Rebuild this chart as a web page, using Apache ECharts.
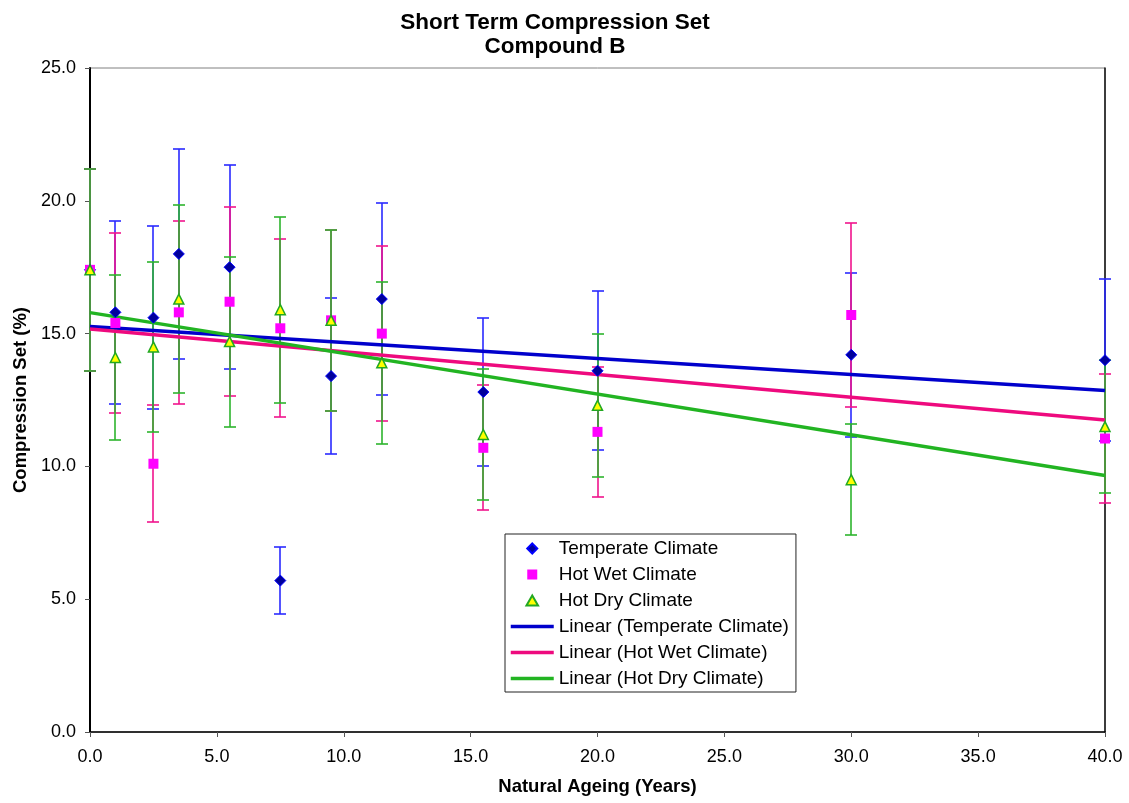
<!DOCTYPE html>
<html>
<head>
<meta charset="utf-8">
<script src="https://cdn.jsdelivr.net/npm/echarts@6/dist/echarts.min.js"></script>
<style>
html,body{margin:0;padding:0;background:#fff;}
#chart{width:1129px;height:803px;}
</style>
</head>
<body>
<div id="chart"></div>
<script>
// ---- data ----
const years = [0, 1, 2.5, 3.5, 5.5, 7.5, 9.5, 11.5, 15.5, 20, 30, 40];
const temperate    = [17.4, 15.8, 15.6, 18.0, 17.5, 5.7, 13.4, 16.3, 12.8, 13.6, 14.2, 14.0];
const temperateErr = [3.8, 3.45, 3.45, 3.95, 3.85, 1.25, 2.95, 3.6, 2.8, 3.0, 3.1, 3.05];
const hotWet       = [17.4, 15.4, 10.1, 15.8, 16.2, 15.2, 15.5, 15.0, 10.7, 11.3, 15.7, 11.05];
const hotWetErr    = [3.8, 3.4, 2.2, 3.45, 3.55, 3.35, 3.4, 3.3, 2.35, 2.45, 3.45, 2.42];
const hotDry       = [17.4, 14.1, 14.5, 16.3, 14.7, 15.9, 15.5, 13.9, 11.2, 12.3, 9.5, 11.5];
const hotDryErr    = [3.8, 3.1, 3.2, 3.55, 3.2, 3.5, 3.4, 3.05, 2.45, 2.7, 2.1, 2.5];
// linear trend end points (x = 0 and x = 40)
const trendX         = [0, 40];
const temperateTrend = [15.27, 12.86];
const hotWetTrend    = [15.17, 11.75];
const hotDryTrend    = [15.79, 9.66];

const FONT = '"Liberation Sans", Arial, Helvetica, sans-serif';

function errorSeries(name, vals, errs, color) {
  return {
    type: 'custom',
    name: name,
    silent: true,
    z: 2,
    clip: false,
    itemStyle: { color: color, borderColor: color },
    data: years.map((x, i) => [x, vals[i] - errs[i], vals[i] + errs[i]]),
    encode: { x: 0, y: [1, 2] },
    renderItem: function (params, api) {
      const lo = api.coord([api.value(0), api.value(1)]);
      const hi = api.coord([api.value(0), api.value(2)]);
      const x = Math.round(lo[0]);
      const y1 = Math.round(lo[1]);
      const y2 = Math.round(hi[1]);
      const hw = 6;
      const st = () => ({ stroke: color, fill: 'none', lineWidth: 1.6 });
      return {
        type: 'group',
        children: [
          { type: 'line', shape: { x1: x, y1: y1, x2: x, y2: y2 }, style: st() },
          { type: 'line', shape: { x1: x - hw, y1: y1, x2: x + hw, y2: y1 }, style: st() },
          { type: 'line', shape: { x1: x - hw, y1: y2, x2: x + hw, y2: y2 }, style: st() }
        ]
      };
    }
  };
}

function pairs(xs, ys) { return xs.map((x, i) => [x, ys[i]]); }

const chart = echarts.init(document.getElementById('chart'), null, { renderer: 'canvas' });

const hiddenSym = { opacity: 0 };
const option = {
  backgroundColor: '#ffffff',
  animation: false,
  textStyle: { fontFamily: FONT },
  grid: {
    left: 90, right: 24, top: 68, bottom: 71,
    show: true, borderColor: '#808080', borderWidth: 1,
    containLabel: false, outerBoundsMode: 'none'
  },
  graphic: [
    { type: 'text', x: 555, y: 23, style: { text: 'Short Term Compression Set', fill: '#000', font: 'bold 22.5px ' + FONT, align: 'center', verticalAlign: 'middle' } },
    { type: 'text', x: 555, y: 46.5, style: { text: 'Compound B', fill: '#000', font: 'bold 22.5px ' + FONT, align: 'center', verticalAlign: 'middle' } }
  ],
  legend: {
    orient: 'vertical',
    left: 505, top: 534,
    padding: [5, 7, 4, 4],
    itemGap: 7,
    itemWidth: 43,
    itemHeight: 10,
    itemTextGap: 4,
    symbolKeepAspect: true,
    borderColor: '#222',
    borderWidth: 1,
    borderRadius: 0,
    backgroundColor: '#ffffff',
    selectedMode: false,
    textStyle: { fontFamily: FONT, fontSize: 19, color: '#000' },
    data: [
      { name: 'Temperate Climate', icon: 'path://M0,-1L1,0L0,1L-1,0Z' },
      { name: 'Hot Wet Climate', icon: 'path://M0,0L1,0L1,1L0,1Z' },
      { name: 'Hot Dry Climate', icon: 'path://M0,-1L1.1,0.9L-1.1,0.9Z' },
      { name: 'Linear (Temperate Climate)', itemStyle: hiddenSym, lineStyle: { width: 3.5 } },
      { name: 'Linear (Hot Wet Climate)', itemStyle: hiddenSym, lineStyle: { width: 3.5 } },
      { name: 'Linear (Hot Dry Climate)', itemStyle: hiddenSym, lineStyle: { width: 3.5 } }
    ]
  },
  xAxis: {
    type: 'value', min: 0, max: 40, interval: 5,
    name: 'Natural Ageing (Years)', nameLocation: 'middle', nameGap: 45,
    nameTextStyle: { fontFamily: FONT, fontSize: 18.5, fontWeight: 'bold', color: '#000' },
    axisLine: { show: true, onZero: false, lineStyle: { color: '#000', width: 1.5 } },
    axisTick: { show: true, length: 5, inside: false, lineStyle: { color: '#555', width: 1 } },
    axisLabel: { show: true, margin: 16, fontFamily: FONT, fontSize: 18, color: '#000',
                 showMinLabel: true, showMaxLabel: true,
                 formatter: v => v.toFixed(1) },
    splitLine: { show: false }
  },
  yAxis: [{
    type: 'value', min: 0, max: 25, interval: 5,
    name: 'Compression Set (%)', nameLocation: 'middle', nameGap: 56, nameRotate: 90,
    nameTextStyle: { fontFamily: FONT, fontSize: 18.5, fontWeight: 'bold', color: '#000' },
    axisLine: { show: true, onZero: false, lineStyle: { color: '#000', width: 2 } },
    axisTick: { show: true, length: 5, inside: false, lineStyle: { color: '#555', width: 1 } },
    axisLabel: { show: true, margin: 14, fontFamily: FONT, fontSize: 18, color: '#000',
                 showMinLabel: true, showMaxLabel: true,
                 formatter: v => v.toFixed(1) },
    splitLine: { show: false }
  }, {
    type: 'value', min: 0, max: 25, interval: 5, position: 'right',
    axisLine: { show: true, onZero: false, lineStyle: { color: '#111', width: 1.5 } },
    axisTick: { show: false }, axisLabel: { show: false }, splitLine: { show: false }
  }],
  series: [
    errorSeries('err-temperate', temperate, temperateErr, '#2a2aff'),
    errorSeries('err-hotwet', hotWet, hotWetErr, '#f0148c'),
    errorSeries('err-hotdry', hotDry, hotDryErr, '#2db42d'),
    {
      type: 'line', name: 'Linear (Temperate Climate)', data: pairs(trendX, temperateTrend),
      symbol: 'none', showSymbol: false, z: 3, silent: true,
      lineStyle: { color: '#0000cc', width: 3.5 }, itemStyle: { color: '#0000cc' }
    },
    {
      type: 'line', name: 'Linear (Hot Wet Climate)', data: pairs(trendX, hotWetTrend),
      symbol: 'none', showSymbol: false, z: 3, silent: true,
      lineStyle: { color: '#ee0a7e', width: 3.5 }, itemStyle: { color: '#ee0a7e' }
    },
    {
      type: 'line', name: 'Linear (Hot Dry Climate)', data: pairs(trendX, hotDryTrend),
      symbol: 'none', showSymbol: false, z: 3, silent: true,
      lineStyle: { color: '#22b422', width: 3.5 }, itemStyle: { color: '#22b422' }
    },
    {
      type: 'scatter', name: 'Temperate Climate', data: pairs(years, temperate),
      symbol: 'diamond', symbolSize: 11, z: 4, clip: false,
      itemStyle: { color: '#00009c', borderColor: '#0000ff', borderWidth: 1, opacity: 1 }
    },
    {
      type: 'scatter', name: 'Hot Wet Climate', data: pairs(years, hotWet),
      symbol: 'rect', symbolSize: 10, z: 4, clip: false,
      itemStyle: { color: '#ff00ff', opacity: 1 }
    },
    {
      type: 'scatter', name: 'Hot Dry Climate', data: pairs(years, hotDry),
      symbol: 'triangle', symbolSize: 10, z: 4, clip: false,
      itemStyle: { color: '#ffff00', borderColor: '#22a822', borderWidth: 1.5, opacity: 1 }
    }
  ]
};

chart.setOption(option);
</script>
</body>
</html>
